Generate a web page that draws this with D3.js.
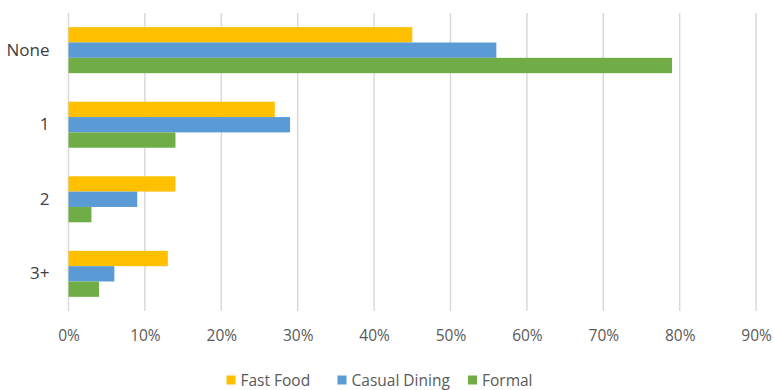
<!DOCTYPE html>
<html>
<head>
<meta charset="utf-8">
<script src="https://cdn.jsdelivr.net/npm/d3@7"></script>
<style>
  html, body { margin: 0; padding: 0; background: #fff; }
  svg { display: block; }
</style>
</head>
<body>
<svg id="chart" width="774" height="390"></svg>
<script>
// Number of visits, share of respondents by restaurant type
const categories = ["None", "1", "2", "3+"];
const seriesNames = ["Fast Food", "Casual Dining", "Formal"];
const fastFood = [45, 27, 14, 13];
const casualDining = [56, 29, 9, 6];
const formal = [79, 14, 3, 4];
const xTicks = [0, 10, 20, 30, 40, 50, 60, 70, 80, 90];
const colors = ["#FFC000", "#5B9BD5", "#70AD47"];

const seriesValues = [fastFood, casualDining, formal];
const font = "'Open Sans', 'Noto Sans', sans-serif";

const svg = d3.select("#chart");
const margin = { left: 68.5, right: 18, top: 13, bottom: 79 };
const W = 774, H = 390;

const x = d3.scaleLinear().domain([0, 90]).range([margin.left, margin.left + 764 * 0.9]);
const y = d3.scaleBand().domain(categories).range([margin.top, H - margin.bottom]).paddingInner(0.383).paddingOuter(0.19);
const ySub = d3.scaleBand().domain(seriesNames).range([0, y.bandwidth()]);

// vertical gridlines
svg.append("g")
  .selectAll("line")
  .data(xTicks)
  .join("line")
  .attr("x1", d => x(d)).attr("x2", d => x(d))
  .attr("y1", margin.top).attr("y2", H - margin.bottom)
  .attr("stroke", "#d9d9d9")
  .attr("stroke-width", 1.5);

// bars
const groups = svg.append("g")
  .selectAll("g")
  .data(categories)
  .join("g")
  .attr("transform", d => `translate(0,${y(d)})`);

groups.selectAll("rect")
  .data((c, i) => seriesNames.map((s, j) => ({ s, v: seriesValues[j][i], j })))
  .join("rect")
  .attr("x", x(0))
  .attr("y", d => ySub(d.s))
  .attr("width", d => x(d.v) - x(0))
  .attr("height", ySub.bandwidth())
  .attr("fill", d => colors[d.j]);

// x axis tick labels
const xAxis = d3.axisBottom(x).tickValues(xTicks).tickFormat(d => d + "%").tickSize(0).tickPadding(0);
const gx = svg.append("g")
  .attr("transform", `translate(0,${H - margin.bottom + 19})`)
  .call(xAxis);
gx.select(".domain").remove();
gx.selectAll("text")
  .attr("font-family", font)
  .attr("font-size", 15.5)
  .attr("fill", "#595959");

// y axis category labels
const yAxis = d3.axisLeft(y).tickSize(0).tickPadding(19);
const gy = svg.append("g")
  .attr("transform", `translate(${x(0)},0)`)
  .call(yAxis);
gy.select(".domain").remove();
gy.selectAll("text")
  .attr("font-family", font)
  .attr("font-size", 17)
  .attr("fill", "#404040");

// legend
const legendX = [226.5, 337.5, 468];
const legend = svg.append("g")
  .selectAll("g")
  .data(seriesNames)
  .join("g")
  .attr("transform", (d, i) => `translate(${legendX[i]},${H - 9})`);
legend.append("rect")
  .attr("x", 0).attr("y", -5.5)
  .attr("width", 9).attr("height", 9)
  .attr("fill", (d, i) => colors[i]);
legend.append("text")
  .attr("x", 14)
  .attr("y", 0)
  .attr("dy", "0.35em")
  .attr("font-family", font)
  .attr("font-size", 15.5)
  .attr("fill", "#595959")
  .text(d => d);
</script>
</body>
</html>
